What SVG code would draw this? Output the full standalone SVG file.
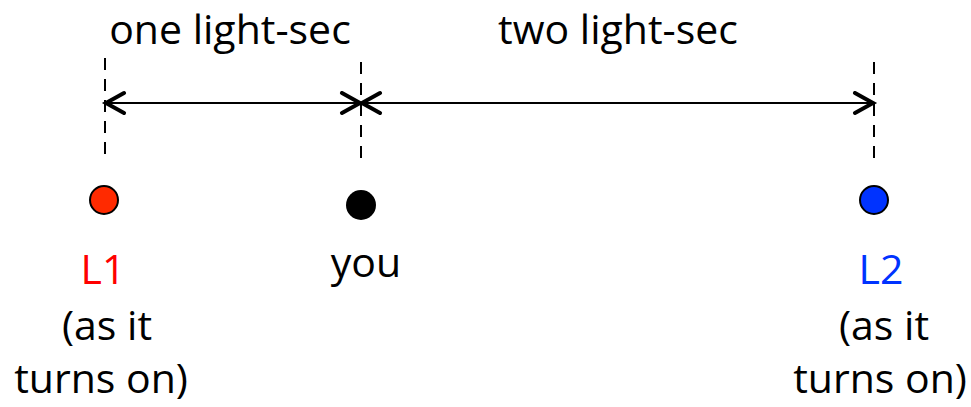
<svg xmlns="http://www.w3.org/2000/svg" width="971" height="407" viewBox="0 0 971 407">
<style>
text{font-family:"Open Sans","Lato","Liberation Sans",sans-serif;font-size:41px;fill:#000;text-anchor:middle}
.dash{stroke:#000;stroke-width:2;stroke-dasharray:12,9;fill:none}
.arr{stroke:#000;stroke-width:2;fill:none}
.head{stroke:#000;stroke-width:4;fill:none;stroke-linecap:round;stroke-linejoin:miter}
</style>
<defs>
<marker id="ah" markerUnits="userSpaceOnUse" markerWidth="30" markerHeight="30" refX="22" refY="12" orient="auto-start-reverse" viewBox="0 0 30 30">
<path d="M4,2 L22,12 L4,22" class="head"/>
</marker>
</defs>
<rect width="971" height="407" fill="#fff"/>
<g id="labels">
<text x="230" y="44">one light-sec</text>
<text x="618" y="44">two light-sec</text>
</g>
<g id="connectors">
<line class="dash" x1="105" y1="58" x2="105" y2="158"/>
<line class="dash" x1="361" y1="62" x2="361" y2="160"/>
<line class="dash" x1="874" y1="62" x2="874" y2="160"/>
<line class="arr" x1="106" y1="103" x2="360" y2="103" marker-start="url(#ah)" marker-end="url(#ah)"/>
<line class="arr" x1="362" y1="103" x2="873" y2="103" marker-start="url(#ah)" marker-end="url(#ah)"/>
</g>
<g id="L1">
<circle cx="104" cy="200" r="14" fill="#ff2a00" stroke="#000" stroke-width="2"/>
<text x="103" y="284" style="fill:#ff0000">L1</text>
<text x="107" y="340">(as it</text>
<text x="101" y="393">turns on)</text>
</g>
<g id="you">
<circle cx="361" cy="205" r="15" fill="#000"/>
<text x="366" y="277">you</text>
</g>
<g id="L2">
<circle cx="874" cy="200" r="14" fill="#0033ff" stroke="#000" stroke-width="2"/>
<text x="881" y="284" style="fill:#0033ff">L2</text>
<text x="884" y="340">(as it</text>
<text x="880" y="393">turns on)</text>
</g>
</svg>
